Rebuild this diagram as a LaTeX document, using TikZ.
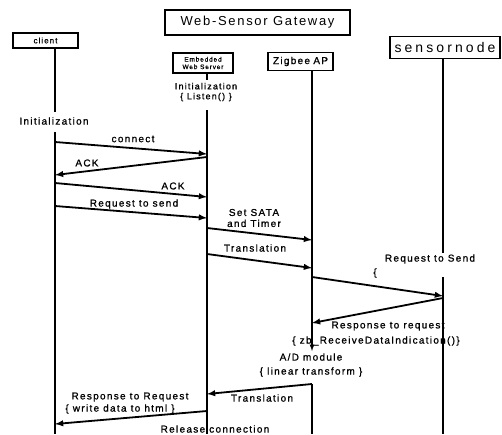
\documentclass[tikz,border=0pt]{standalone}
\usepackage{fontspec}
\setmainfont{Liberation Sans}
\newfontfamily\lblfont[LetterSpace=13,FakeBold=1]{Liberation Sans}
\newfontfamily\headfont[LetterSpace=13]{Liberation Sans}

\begin{document}
\begin{tikzpicture}[x=1pt, y=-1pt,
    box/.style={draw, line width=1.5pt, inner sep=0pt, align=center},
    life/.style={line width=1.2pt},
    msg/.style={line width=1.8pt, -latex},
    lbl/.style={font=\lblfont\fontsize{10}{11}\selectfont, inner sep=0pt, align=center}]
    \useasboundingbox (0,0) rectangle (502,434);

    % Title
    \node[box, line width=2.8pt, minimum width=185pt, minimum height=25pt,
          font=\headfont\fontsize{13}{14}\selectfont] (gateway) at (257.5,22.5) {Web-Sensor Gateway};

    % Participants
    \node[box, minimum width=65pt, minimum height=15pt,
          font=\lblfont\fontsize{8}{9}\selectfont] (client) at (45.5,40.5) {client};
    \node[box, minimum width=60pt, minimum height=20pt,
          font=\lblfont\fontsize{6.5}{7.5}\selectfont] (webserver) at (203,63) {Embedded\\Web Server};
    \node[box, minimum width=65pt, minimum height=18pt,
          font=\lblfont\fontsize{10}{11}\selectfont] (zigbee) at (300.5,61.5) {Zigbee\,\,AP};
    \node[box, minimum width=110pt, minimum height=22pt,
          font=\headfont\fontsize{14}{15}\selectfont\addfontfeatures{LetterSpace=22}] (sensor) at (445,47.5) {sensornode};

    % Lifeline points
    \coordinate (cl-top) at (55,48);   \coordinate (cl-gap) at (55,112);
    \coordinate (cl-mid) at (55,132);  \coordinate (cl-end) at (55,434);
    \coordinate (ws-top) at (207,73);  \coordinate (ws-gap) at (207,80);
    \coordinate (ws-mid) at (207,110); \coordinate (ws-end) at (207,434);
    \coordinate (zb-top) at (312,70);  \coordinate (zb-ad) at (312,351);
    \coordinate (zb-mid) at (312,384); \coordinate (zb-end) at (312,434);
    \coordinate (sn-top) at (443,58);  \coordinate (sn-gap) at (443,253);
    \coordinate (sn-mid) at (443,277); \coordinate (sn-end) at (443,434);

    % Lifelines
    \draw[life] (cl-top) -- (cl-gap);
    \draw[life] (cl-mid) -- (cl-end);
    \draw[life] (ws-top) -- (ws-gap);
    \draw[life] (ws-mid) -- (ws-end);
    \draw[life, -latex] (zb-top) -- (zb-ad);
    \draw[life] (zb-mid) -- (zb-end);
    \draw[life] (sn-top) -- (sn-gap);
    \draw[life] (sn-mid) -- (sn-end);

    % Message end points
    \coordinate (m1a) at (55,142);  \coordinate (m1b) at (207,154);
    \coordinate (m2a) at (207,157); \coordinate (m2b) at (55,175);
    \coordinate (m3a) at (55,183);  \coordinate (m3b) at (207,197);
    \coordinate (m4a) at (55,206);  \coordinate (m4b) at (207,218);
    \coordinate (m5a) at (207,228); \coordinate (m5b) at (312,240);
    \coordinate (m6a) at (207,254); \coordinate (m6b) at (312,268);
    \coordinate (m7a) at (312,277); \coordinate (m7b) at (443,296);
    \coordinate (m8a) at (443,298); \coordinate (m8b) at (312,323);
    \coordinate (m9a) at (312,384); \coordinate (m9b) at (207,394);
    \coordinate (m10a) at (207,411); \coordinate (m10b) at (55,424);

    % Messages
    \draw[msg] (m1a) -- (m1b);
    \draw[msg] (m2a) -- (m2b);
    \draw[msg] (m3a) -- (m3b);
    \draw[msg] (m4a) -- (m4b);
    \draw[msg] (m5a) -- (m5b);
    \draw[msg] (m6a) -- (m6b);
    \draw[msg] (m7a) -- (m7b);
    \draw[msg] (m8a) -- (m8b);
    \draw[msg] (m9a) -- (m9b);
    \draw[msg] (m10a) -- (m10b);

    % Labels
    \node[lbl] (cl-init) at (54,121) {Initialization};
    \node[lbl, font=\lblfont\fontsize{9}{10}\selectfont] (ws-init) at (206,92) {Initialization\\\{ Listen() \}};
    \node[lbl] (connect) at (133,139) {connect};
    \node[lbl] (ack1) at (87,163) {ACK};
    \node[lbl] (ack2) at (173,186) {ACK};
    \node[lbl] (reqsend) at (134,204) {Request to send};
    \node[lbl] (sata) at (254,218) {Set SATA\\and Timer};
    \node[lbl] (trans1) at (255,248) {Translation};
    \node[lbl] (reqSend) at (430,259) {Request to Send};
    \node[lbl] (brace) at (375,273) {\{};
    \node[lbl] (resp1) at (388,326) {Response to request};
    \node[lbl] (resp2) at (376,341) {\{ zb\_ReceiveDataIndication()\}};
    \node[lbl] (admod) at (311,357) {A/D module};
    \node[lbl] (linear) at (311,372) {\{ linear transform \}};
    \node[lbl] (trans2) at (262,398) {Translation};
    \node[lbl] (resp3) at (130,397) {Response to Request};
    \node[lbl] (resp4) at (120,409) {\{ write data to html \}};
    \node[lbl] (release) at (215,429) {Release connection};
\end{tikzpicture}
\end{document}
